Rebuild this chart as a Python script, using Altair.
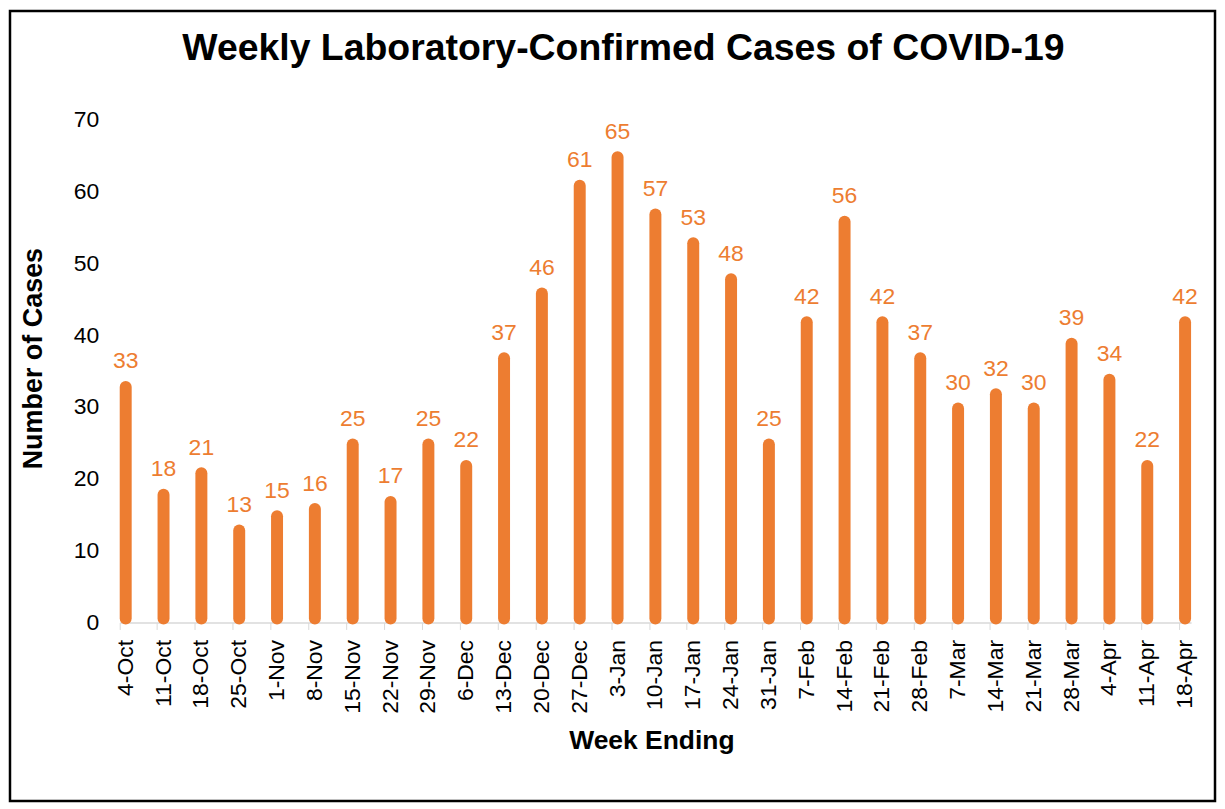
import altair as alt
import pandas as pd

weeks = ["4-Oct", "11-Oct", "18-Oct", "25-Oct", "1-Nov", "8-Nov", "15-Nov", "22-Nov",
         "29-Nov", "6-Dec", "13-Dec", "20-Dec", "27-Dec", "3-Jan", "10-Jan", "17-Jan",
         "24-Jan", "31-Jan", "7-Feb", "14-Feb", "21-Feb", "28-Feb", "7-Mar", "14-Mar",
         "21-Mar", "28-Mar", "4-Apr", "11-Apr", "18-Apr"]
cases = [33, 18, 21, 13, 15, 16, 25, 17, 25, 22, 37, 46, 61, 65, 57, 53, 48, 25, 42,
         56, 42, 37, 30, 32, 30, 39, 34, 22, 42]
y_ticks = [0, 10, 20, 30, 40, 50, 60, 70]
title_text = "Weekly Laboratory-Confirmed Cases of COVID-19"

df = pd.DataFrame({"week": weeks, "cases": cases})

ORANGE = "#ED7D31"
FONT = "Liberation Sans"
W, H = 1074, 504

x_enc = alt.X(
    "week:N",
    sort=weeks,
    scale=alt.Scale(type="band", paddingInner=0.684, paddingOuter=0),
    axis=alt.Axis(
        title="Week Ending",
        labelAngle=-90,
        bandPosition=0,
        labelFontSize=23,
        labelColor="black",
        labelPadding=10,
        tickSize=7,
        tickColor="#d9d9d9",
        domainColor="#d9d9d9",
        domainWidth=1.5,
        titleFontSize=26.5,
        titleFontWeight="bold",
        titleColor="black",
        titlePadding=14,
        titleX=533,
        grid=False,
    ),
)
y_enc = alt.Y(
    "cases:Q",
    scale=alt.Scale(domain=[0, 70], nice=False),
    axis=alt.Axis(
        title="Number of Cases",
        values=y_ticks,
        grid=False,
        domain=False,
        ticks=False,
        tickSize=0,
        labelFontSize=23,
        labelColor="black",
        labelPadding=21,
        titleFontSize=27,
        titleFontWeight="bold",
        titleColor="black",
        titlePadding=26,
        titleY=239,
    ),
)

base = alt.Chart(df)

bars = base.mark_rule(
    strokeWidth=12, strokeCap="round", color=ORANGE, yOffset=1.5, y2Offset=-4
).encode(x=x_enc, y=y_enc, y2=alt.datum(0))

labels = base.mark_text(
    dy=-17, baseline="alphabetic", fontSize=23, color=ORANGE, font=FONT
).encode(x=x_enc, y=y_enc, text=alt.Text("cases:Q"))

one = pd.DataFrame({"t": [title_text]})

border = alt.Chart(one).mark_rect(
    fillOpacity=0, stroke="black", strokeWidth=2.5
).encode(
    x=alt.value(-110), x2=alt.value(W + 24),
    y=alt.value(-109), y2=alt.value(H + 179),
)

title = alt.Chart(one).mark_text(
    fontSize=37.5, fontWeight="bold", font=FONT, color="black",
    align="center", baseline="alphabetic"
).encode(x=alt.value(505), y=alt.value(-60), text="t:N")

chart = alt.layer(border, bars, labels, title).properties(
    width=W,
    height=H,
    padding=0,
    background="white",
).configure(font=FONT).configure_view(stroke=None)

chart.save("out.html", embed_options={"renderer": "svg", "actions": False})
